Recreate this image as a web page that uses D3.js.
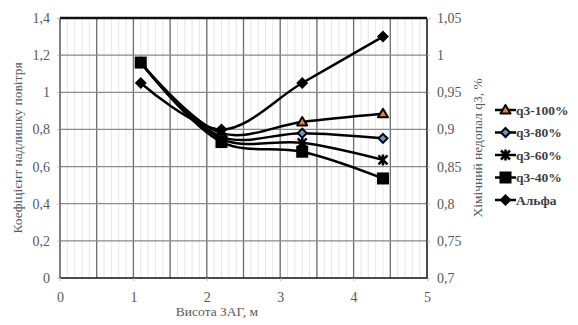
<!DOCTYPE html>
<html><head><meta charset="utf-8">
<script src="https://cdn.jsdelivr.net/npm/d3@7"></script>
<style>body{margin:0;background:#fff}svg{display:block}svg text{font-family:"Liberation Serif","DejaVu Serif","Times New Roman",serif !important}</style>
</head><body><svg id="c" width="578" height="325"></svg>
<script>
const heights = [1.1, 2.2, 3.3, 4.4];
const alpha = [1.05, 0.80, 1.05, 1.30];
const q3_100 = [0.99, 0.895, 0.910, 0.921];
const q3_80 = [0.99, 0.890, 0.895, 0.888];
const q3_60 = [0.99, 0.887, 0.882, 0.859];
const q3_40 = [0.99, 0.883, 0.870, 0.834];
const xTicks = [0, 1, 2, 3, 4, 5];
const leftTicks = [0, 0.2, 0.4, 0.6, 0.8, 1, 1.2, 1.4];
const rightTicks = [0.7, 0.75, 0.8, 0.85, 0.9, 0.95, 1, 1.05];
const seriesNames = ["q3-100%", "q3-80%", "q3-60%", "q3-40%", "Альфа"];

const svg = d3.select("#c");
const L = 60, R = 427, T = 18, B = 278;
const x = d3.scaleLinear().domain([0, 5]).range([L, R]);
const yL = d3.scaleLinear().domain([0, 1.4]).range([B, T]);
const yR = d3.scaleLinear().domain([0.7, 1.05]).range([B, T]);
const fmt = v => String(+v.toFixed(2)).replace(".", ",");

const g = svg.append("g");
g.selectAll("line.mn").data(d3.range(0, 50).map(i => i / 10)).join("line")
  .attr("x1", d => x(d)).attr("x2", d => x(d)).attr("y1", T).attr("y2", B)
  .attr("stroke", "#e6e6e6").attr("stroke-width", 1);
g.selectAll("line.mj").data(d3.range(1, 10).map(i => i / 2)).join("line")
  .attr("x1", d => x(d)).attr("x2", d => x(d)).attr("y1", T).attr("y2", B)
  .attr("stroke", "#6e6e6e").attr("stroke-width", 1.3);
g.selectAll("line.h").data(leftTicks.slice(1, -1)).join("line")
  .attr("x1", L).attr("x2", R).attr("y1", d => yL(d)).attr("y2", d => yL(d))
  .attr("stroke", "#8a8a8a").attr("stroke-width", 1.3);

svg.append("line").attr("x1", L).attr("x2", R).attr("y1", T).attr("y2", T).attr("stroke", "#111").attr("stroke-width", 2.5);
svg.append("line").attr("x1", L).attr("x2", R).attr("y1", B).attr("y2", B).attr("stroke", "#111").attr("stroke-width", 1.5);
svg.append("line").attr("x1", L).attr("x2", L).attr("y1", T).attr("y2", B).attr("stroke", "#333").attr("stroke-width", 1.2);
svg.append("line").attr("x1", R).attr("x2", R).attr("y1", T).attr("y2", B).attr("stroke", "#111").attr("stroke-width", 1.5);

const tc = "#595959";
const axB = svg.append("g").attr("transform", `translate(0,${B})`)
  .call(d3.axisBottom(x).tickValues(xTicks).tickSize(3).tickFormat(d => d));
const axL = svg.append("g").attr("transform", `translate(${L},0)`)
  .call(d3.axisLeft(yL).tickValues(leftTicks).tickSize(3).tickFormat(fmt));
const axR = svg.append("g").attr("transform", `translate(${R},0)`)
  .call(d3.axisRight(yR).tickValues(rightTicks).tickSize(3).tickFormat(fmt));
[axB, axL, axR].forEach(a => {
  a.attr("font-family", null).attr("font-size", null);
  a.select(".domain").remove();
  a.selectAll(".tick line").attr("stroke", "#bbb");
  a.selectAll("text").attr("fill", tc).style("font-size", "14px");
});
axB.selectAll("text").attr("dy", "1.25em");
axL.selectAll("text").attr("x", -10);
axR.selectAll("text").attr("x", 10);

svg.append("text").attr("transform", `translate(22,${(T + B) / 2}) rotate(-90)`)
  .attr("text-anchor", "middle").attr("fill", tc).style("font-size", "13.5px").text("Коефіцієнт надлишку повітря");
svg.append("text").attr("transform", `translate(482,${(T + B) / 2}) rotate(-90)`)
  .attr("text-anchor", "middle").attr("fill", tc).style("font-size", "13.5px").text("Хімічний недопал q3, %");
svg.append("text").attr("x", 217).attr("y", 316)
  .attr("text-anchor", "middle").attr("fill", tc).style("font-size", "13.5px").text("Висота ЗАГ,  м");

const series = [
  {name: seriesNames[0], vals: q3_100, y: yR, marker: "tri"},
  {name: seriesNames[1], vals: q3_80, y: yR, marker: "dsm"},
  {name: seriesNames[2], vals: q3_60, y: yR, marker: "star"},
  {name: seriesNames[3], vals: q3_40, y: yR, marker: "sq"},
  {name: seriesNames[4], vals: alpha, y: yL, marker: "dia"}
];
const line = d3.line().curve(d3.curveCatmullRom.alpha(0.5));

function marker(sel, type) {
  if (type === "tri") sel.append("path").attr("d", "M0,-5L5,3.5L-5,3.5Z").attr("fill", "#ED7D31").attr("stroke", "#000").attr("stroke-width", 2).attr("stroke-linejoin", "round");
  else if (type === "dsm") sel.append("path").attr("d", "M0,-4.5L4.5,0L0,4.5L-4.5,0Z").attr("fill", "#5B9BD5").attr("stroke", "#000").attr("stroke-width", 2);
  else if (type === "star") sel.append("path").attr("d", "M-4.5,-4.5L4.5,4.5M-4.5,4.5L4.5,-4.5M0,-5.5L0,5.5").attr("stroke", "#000").attr("stroke-width", 2.5);
  else if (type === "sq") sel.append("rect").attr("x", -6).attr("y", -6).attr("width", 12).attr("height", 12).attr("fill", "#000");
  else if (type === "dia") sel.append("path").attr("d", "M0,-6L6,0L0,6L-6,0Z").attr("fill", "#000");
}

series.forEach(s => {
  const pts = heights.map((h, i) => [x(h), s.y(s.vals[i])]);
  svg.append("path").attr("d", line(pts)).attr("fill", "none").attr("stroke", "#000").attr("stroke-width", 2.5);
});
series.forEach(s => {
  heights.forEach((h, i) => {
    const gm = svg.append("g").attr("transform", `translate(${x(h)},${s.y(s.vals[i])})`);
    marker(gm, s.marker);
  });
});

const lg = svg.append("g");
series.forEach((s, i) => {
  const yy = 110 + i * 22.5;
  lg.append("line").attr("x1", 495).attr("x2", 516).attr("y1", yy).attr("y2", yy).attr("stroke", "#000").attr("stroke-width", 2.5);
  const gm = lg.append("g").attr("transform", `translate(505.5,${yy})`);
  marker(gm, s.marker);
  lg.append("text").attr("x", 516).attr("y", yy + 4.5).attr("fill", "#404040")
    .style("font-size", "13.5px").style("font-weight", "bold").text(s.name);
});
</script></body></html>
